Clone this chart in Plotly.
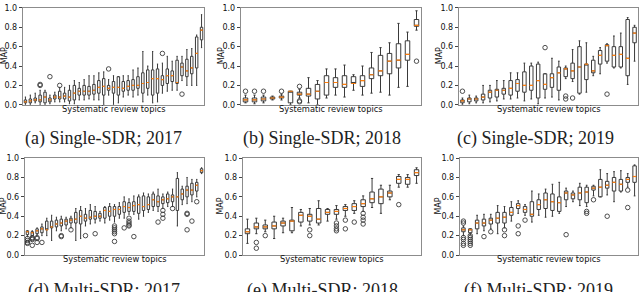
import plotly.graph_objects as go

# ---------------- data ----------------
# (a) Single-SDR; 2017
A_Q1 = [0.02,0.02,0.04,0.03,0.02,0.03,0.06,0.06,0.06,0.04,0.05,0.10,0.10,0.10,0.11,0.12,0.10,0.15,0.12,0.10,0.14,0.15,0.15,0.17,0.12,0.17,0.10,0.12,0.20,0.22,0.24,0.22,0.30,0.29,0.32,0.38,0.67]
A_MED = [0.03,0.04,0.05,0.05,0.08,0.05,0.08,0.08,0.09,0.08,0.12,0.14,0.14,0.14,0.15,0.18,0.19,0.17,0.18,0.18,0.17,0.19,0.20,0.20,0.22,0.23,0.27,0.27,0.26,0.30,0.30,0.23,0.39,0.35,0.38,0.53,0.77]
A_Q3 = [0.05,0.06,0.07,0.10,0.13,0.07,0.10,0.14,0.12,0.15,0.20,0.17,0.20,0.19,0.21,0.25,0.27,0.20,0.24,0.29,0.24,0.25,0.26,0.29,0.33,0.36,0.36,0.37,0.30,0.37,0.35,0.46,0.43,0.47,0.50,0.70,0.80]
A_LO = [0.00,0.00,0.02,0.00,0.00,0.01,0.03,0.03,0.03,0.01,0.01,0.05,0.05,0.06,0.05,0.05,0.00,0.10,0.00,0.02,0.08,0.10,0.08,0.10,0.03,0.10,0.02,0.03,0.12,0.14,0.15,0.15,0.25,0.20,0.20,0.20,0.59]
A_HI = [0.08,0.10,0.12,0.15,0.15,0.10,0.13,0.18,0.18,0.20,0.25,0.23,0.26,0.30,0.30,0.33,0.34,0.26,0.30,0.29,0.30,0.30,0.36,0.38,0.55,0.40,0.55,0.42,0.43,0.50,0.45,0.50,0.50,0.57,0.58,0.72,0.93]
A_OUT = [[],[],[],[0.20,0.21],[],[0.29],[],[0.20],[],[],[],[],[],[],[],[],[],[0.37],[],[],[],[],[],[],[],[],[],[],[0.53],[],[],[],[0.11],[],[],[],[]]

# (b) Single-SDR; 2018
B_Q1 = [0.03,0.03,0.04,0.06,0.07,0.02,0.10,0.09,0.06,0.10,0.18,0.18,0.22,0.19,0.27,0.30,0.32,0.38,0.46,0.81]
B_MED = [0.05,0.05,0.06,0.07,0.08,0.14,0.11,0.11,0.14,0.23,0.23,0.21,0.22,0.25,0.31,0.35,0.45,0.46,0.52,0.82]
B_Q3 = [0.07,0.07,0.08,0.08,0.09,0.14,0.13,0.17,0.21,0.30,0.28,0.30,0.29,0.30,0.38,0.51,0.53,0.63,0.66,0.88]
B_LO = [0.02,0.01,0.02,0.05,0.05,0.00,0.07,0.02,0.00,0.07,0.10,0.08,0.15,0.10,0.12,0.13,0.10,0.18,0.19,0.77]
B_HI = [0.10,0.10,0.10,0.09,0.11,0.14,0.16,0.28,0.25,0.37,0.37,0.41,0.31,0.40,0.54,0.59,0.64,0.84,0.75,0.97]
B_OUT = [[0.14],[0.14],[0.14],[],[0.14],[],[0.19,0.04,0.03],[],[],[],[],[],[],[],[],[],[],[],[],[0.45]]

# (c) Single-SDR; 2019
C_Q1 = [0.02,0.03,0.04,0.05,0.07,0.08,0.11,0.10,0.14,0.13,0.15,0.07,0.16,0.18,0.15,0.29,0.27,0.12,0.26,0.33,0.42,0.45,0.39,0.39,0.30,0.64]
C_MED = [0.04,0.06,0.06,0.08,0.13,0.15,0.15,0.17,0.22,0.20,0.20,0.25,0.21,0.28,0.33,0.37,0.35,0.39,0.42,0.35,0.51,0.61,0.51,0.52,0.48,0.74]
C_Q3 = [0.05,0.07,0.07,0.11,0.15,0.16,0.17,0.25,0.26,0.34,0.40,0.42,0.32,0.32,0.39,0.38,0.43,0.60,0.42,0.46,0.56,0.62,0.60,0.60,0.88,0.80]
C_LO = [0.00,0.01,0.02,0.02,0.03,0.04,0.06,0.06,0.07,0.04,0.06,0.01,0.07,0.08,0.05,0.27,0.24,0.11,0.13,0.30,0.32,0.43,0.38,0.38,0.21,0.45]
C_HI = [0.07,0.10,0.09,0.20,0.20,0.25,0.25,0.33,0.33,0.43,0.43,0.44,0.32,0.48,0.45,0.40,0.57,0.66,0.64,0.50,0.59,0.63,0.71,0.74,0.90,0.82]
C_OUT = [[0.14],[],[],[],[],[],[],[],[],[],[],[],[0.59],[],[],[0.09,0.06],[0.07],[],[],[],[],[0.11],[],[],[],[]]

# (d) Multi-SDR; 2017
D_Q1 = [0.21,0.20,0.22,0.23,0.26,0.28,0.29,0.30,0.31,0.33,0.33,0.32,0.35,0.37,0.37,0.38,0.38,0.40,0.40,0.42,0.44,0.45,0.45,0.43,0.46,0.47,0.50,0.50,0.53,0.54,0.55,0.46,0.57,0.60,0.62,0.66,0.85]
D_MED = [0.24,0.23,0.25,0.27,0.26,0.29,0.32,0.33,0.35,0.36,0.37,0.40,0.38,0.39,0.40,0.40,0.46,0.45,0.47,0.47,0.50,0.49,0.51,0.52,0.50,0.52,0.57,0.55,0.57,0.58,0.60,0.60,0.63,0.67,0.67,0.72,0.87]
D_Q3 = [0.25,0.24,0.27,0.29,0.35,0.35,0.36,0.37,0.37,0.38,0.44,0.46,0.42,0.46,0.45,0.43,0.49,0.50,0.50,0.50,0.55,0.54,0.55,0.60,0.61,0.60,0.63,0.61,0.60,0.63,0.62,0.79,0.68,0.71,0.74,0.75,0.89]
D_LO = [0.19,0.20,0.21,0.20,0.20,0.15,0.25,0.25,0.27,0.28,0.15,0.17,0.30,0.32,0.33,0.35,0.33,0.36,0.34,0.38,0.38,0.42,0.42,0.37,0.40,0.44,0.46,0.45,0.48,0.50,0.50,0.30,0.52,0.53,0.55,0.60,0.84]
D_HI = [0.25,0.25,0.28,0.32,0.38,0.41,0.39,0.40,0.39,0.40,0.48,0.50,0.48,0.52,0.50,0.45,0.50,0.53,0.52,0.54,0.60,0.58,0.61,0.62,0.64,0.63,0.65,0.68,0.63,0.65,0.68,0.85,0.71,0.80,0.78,0.78,0.90]
D_OUT = [[0.17,0.15,0.13,0.12],[0.18,0.17,0.16,0.10],[0.18,0.17,0.13],[0.13],[],[],[],[0.20,0.19],[],[0.26],[],[],[0.20],[],[0.22],[],[],[],[0.30,0.28,0.26,0.24,0.22,0.14],[],[0.28],[0.38,0.35,0.33,0.31,0.30],[0.19],[],[],[],[],[0.34],[0.46,0.42,0.38],[],[0.48],[],[],[0.43,0.42,0.26],[0.35],[0.55],[]]

# (e) Multi-SDR; 2018
E_Q1 = [0.22,0.27,0.27,0.27,0.30,0.25,0.34,0.35,0.33,0.42,0.42,0.46,0.46,0.50,0.54,0.53,0.60,0.74,0.73,0.82]
E_MED = [0.24,0.29,0.29,0.30,0.33,0.35,0.41,0.40,0.37,0.44,0.45,0.48,0.50,0.53,0.58,0.60,0.64,0.78,0.78,0.85]
E_Q3 = [0.27,0.33,0.31,0.34,0.35,0.36,0.44,0.42,0.48,0.47,0.47,0.50,0.53,0.57,0.65,0.68,0.66,0.81,0.80,0.88]
E_LO = [0.12,0.22,0.24,0.17,0.23,0.23,0.30,0.31,0.31,0.35,0.37,0.40,0.43,0.45,0.49,0.43,0.57,0.70,0.70,0.74]
E_HI = [0.37,0.38,0.36,0.40,0.38,0.49,0.47,0.48,0.56,0.48,0.51,0.52,0.56,0.61,0.79,0.72,0.72,0.83,0.83,0.90]
E_OUT = [[],[0.13,0.07],[0.20],[],[],[],[],[0.26,0.20],[],[],[0.33,0.30,0.27,0.25],[0.36,0.27],[0.34],[0.43,0.39,0.36,0.32],[],[],[],[0.52],[],[]]

# (f) Multi-SDR; 2019
F_Q1 = [0.24,0.23,0.27,0.30,0.32,0.33,0.33,0.41,0.48,0.44,0.40,0.47,0.48,0.46,0.45,0.57,0.58,0.57,0.54,0.67,0.60,0.69,0.66,0.66,0.75,0.75]
F_MED = [0.26,0.26,0.33,0.33,0.36,0.38,0.39,0.44,0.51,0.47,0.42,0.52,0.57,0.55,0.54,0.64,0.62,0.64,0.65,0.69,0.70,0.72,0.75,0.73,0.78,0.81]
F_Q3 = [0.28,0.27,0.36,0.37,0.38,0.44,0.44,0.49,0.53,0.50,0.55,0.57,0.64,0.63,0.60,0.66,0.64,0.70,0.70,0.71,0.78,0.76,0.80,0.78,0.80,0.92]
F_LO = [0.20,0.21,0.22,0.25,0.27,0.22,0.28,0.35,0.43,0.41,0.34,0.41,0.39,0.40,0.43,0.50,0.55,0.51,0.50,0.61,0.60,0.62,0.55,0.65,0.70,0.61]
F_HI = [0.30,0.27,0.41,0.42,0.42,0.51,0.50,0.55,0.56,0.52,0.66,0.63,0.68,0.73,0.75,0.69,0.66,0.74,0.72,0.72,0.88,0.84,0.86,0.87,0.84,0.93]
F_OUT = [[0.35,0.33,0.18,0.16,0.12,0.10],[0.20,0.18,0.16,0.14,0.12,0.10],[],[0.19],[0.24],[],[0.26,0.20],[],[0.30,0.22],[0.36],[],[],[],[],[],[0.21],[],[],[0.45,0.43],[0.57],[],[0.40],[],[],[0.67,0.49],[]]

CAPTIONS = ["(a) Single-SDR; 2017", "(b) Single-SDR; 2018", "(c) Single-SDR; 2019",
            "(d) Multi-SDR; 2017", "(e) Multi-SDR; 2018", "(f) Multi-SDR; 2019"]
Y_TICKS = [0.0, 0.2, 0.4, 0.6, 0.8, 1.0]
Y_LABEL = "MAP"
X_LABEL = "Systematic review topics"

PANELS = [
    (A_Q1, A_MED, A_Q3, A_LO, A_HI, A_OUT),
    (B_Q1, B_MED, B_Q3, B_LO, B_HI, B_OUT),
    (C_Q1, C_MED, C_Q3, C_LO, C_HI, C_OUT),
    (D_Q1, D_MED, D_Q3, D_LO, D_HI, D_OUT),
    (E_Q1, E_MED, E_Q3, E_LO, E_HI, E_OUT),
    (F_Q1, F_MED, F_Q3, F_LO, F_HI, F_OUT),
]

# ---------------- layout (pixels) ----------------
W, H = 640, 292
X_DOM = [(23, 204), (241, 421), (459, 638), (25, 204), (243, 421), (460, 638)]
Y_DOM = [(4, 104)] * 3 + [(159, 259)] * 3
YLAB_X = [4, 221, 439, 4, 221, 439]
CAP_X = [103, 322, 535, 104, 322, 538]
CAP_Y = [139, 139, 139, 296, 296, 296]
XLAB_Y = [108, 108, 108, 263, 263, 263]

def px(x):
    return x / W

def py(y):
    return 1 - y / H

BOX_LINE = "#3a3a3a"
FRAME = "#8c8c8c"
fig = go.Figure()
annotations = []
layout = {}
for k, (q1, med, q3, lo, hi, out) in enumerate(PANELS):
    n = len(q1)
    pos = list(range(1, n + 1))
    ax = "" if k == 0 else str(k + 1)
    xa, ya = "x" + ax, "y" + ax
    fig.add_trace(go.Box(
        x=pos, q1=q1, median=med, q3=q3, lowerfence=lo, upperfence=hi,
        width=0.5, whiskerwidth=0.5, fillcolor="white",
        line=dict(color=BOX_LINE, width=1), boxpoints=False,
        xaxis=xa, yaxis=ya, showlegend=False, hoverinfo="skip"))
    mx, my = [], []
    for p, m in zip(pos, med):
        mx += [p - 0.25, p + 0.25, None]
        my += [m, m, None]
    fig.add_trace(go.Scatter(x=mx, y=my, mode="lines",
                             line=dict(color="#ff7f0e", width=1.2),
                             xaxis=xa, yaxis=ya, showlegend=False, hoverinfo="skip"))
    ox, oy = [], []
    for p, vals in zip(pos, out):
        for v in vals:
            ox.append(p)
            oy.append(v)
    fig.add_trace(go.Scatter(x=ox, y=oy, mode="markers",
                             marker=dict(symbol="circle-open", size=4.5, color=BOX_LINE,
                                         line=dict(width=0.9, color=BOX_LINE)),
                             xaxis=xa, yaxis=ya, showlegend=False, hoverinfo="skip"))
    x0, x1 = X_DOM[k]
    y0, y1 = Y_DOM[k]
    layout["xaxis" + ax] = dict(domain=[px(x0), px(x1)], range=[0.5, n + 0.5],
                                showticklabels=False, ticks="", showgrid=False,
                                zeroline=False, showline=True, mirror=True,
                                linecolor=FRAME, linewidth=1.4, anchor=ya, fixedrange=True)
    layout["yaxis" + ax] = dict(domain=[py(y1), py(y0)], range=[0, 1],
                                tickvals=Y_TICKS, ticktext=[f"{v:.1f}" for v in Y_TICKS],
                                ticks="outside", ticklen=3, tickcolor="#444",
                                tickfont=dict(family="DejaVu Sans", size=8, color="#111"),
                                showgrid=False, zeroline=False, showline=True, mirror=True,
                                linecolor=FRAME, linewidth=1.4, anchor=xa, fixedrange=True)
    annotations.append(dict(text=Y_LABEL, x=px(YLAB_X[k]), y=py((y0 + y1) / 2),
                            xref="paper", yref="paper", textangle=-90, showarrow=False,
                            xanchor="center", yanchor="middle",
                            font=dict(family="DejaVu Sans", size=8, color="#111")))
    annotations.append(dict(text=X_LABEL, x=px((x0 + x1) / 2), y=py(XLAB_Y[k]),
                            xref="paper", yref="paper", showarrow=False,
                            xanchor="center", yanchor="middle",
                            font=dict(family="DejaVu Sans", size=8.3, color="#111")))
    annotations.append(dict(text=CAPTIONS[k], x=px(CAP_X[k]), y=py(CAP_Y[k]),
                            xref="paper", yref="paper", showarrow=False,
                            xanchor="center", yanchor="middle",
                            font=dict(family="Liberation Serif", size=18, color="#222")))

fig.update_layout(width=W, height=H, margin=dict(l=0, r=0, t=0, b=0),
                  paper_bgcolor="white", plot_bgcolor="white",
                  annotations=annotations, **layout)
fig.write_html("out.html", config={"displayModeBar": False},
               post_script="document.body.style.margin='0';document.body.style.overflow='hidden';")
